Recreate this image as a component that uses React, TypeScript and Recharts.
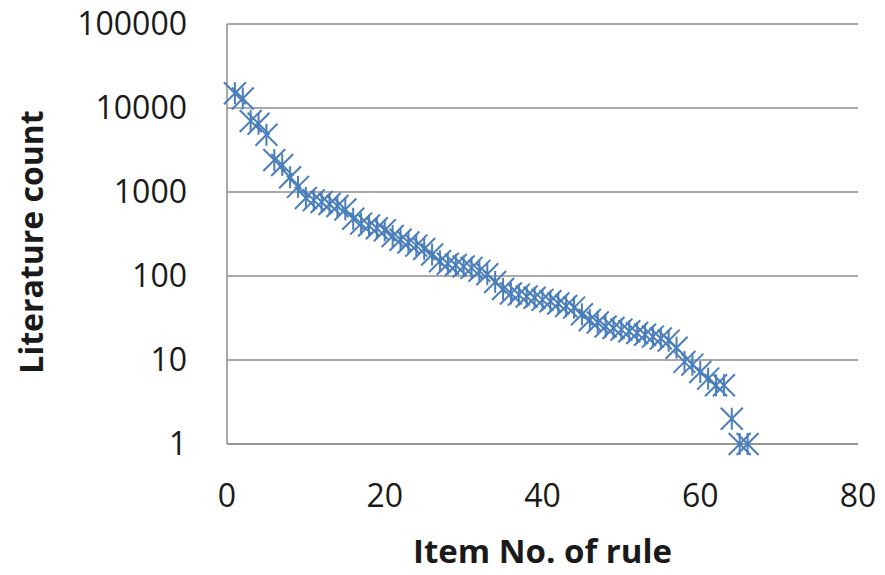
import React from "react";
import { ScatterChart, Scatter, XAxis, YAxis, CartesianGrid, Label } from "recharts";

const itemNumbers = [
  1, 2, 3, 4, 5, 6, 7, 8, 9, 10, 11, 12, 13, 14, 15, 16, 17, 18, 19, 20, 21, 22,
  23, 24, 25, 26, 27, 28, 29, 30, 31, 32, 33, 34, 35, 36, 37, 38, 39, 40, 41, 42,
  43, 44, 45, 46, 47, 48, 49, 50, 51, 52, 53, 54, 55, 56, 57, 58, 59, 60, 61, 62,
  63, 64, 65, 66,
];

const literatureCounts = [
  15000, 13000, 7000, 6500, 4800, 2400, 2100, 1500, 1150, 850, 800, 760, 720, 680,
  620, 480, 420, 400, 370, 350, 300, 270, 250, 230, 210, 180, 150, 140, 135, 130,
  125, 115, 105, 85, 70, 62, 60, 57, 55, 52, 50, 47, 44, 42, 35, 30, 28, 25, 24,
  23, 22, 21, 20, 19, 18, 17, 14, 9.5, 8.8, 7.2, 6, 5, 5, 2, 1, 1,
];

const xTicks = [0, 20, 40, 60, 80];
const yTicks = [1, 10, 100, 1000, 10000, 100000];

const points = itemNumbers.map((n, i) => ({ item: n, count: literatureCounts[i] }));

const BLUE = "#4a7ebb";
const GRID = "#8e8e8e";
const FONT = "'Open Sans', sans-serif";

// Excel-style "star" marker: an X with a vertical bar through it
const StarMarker = (props: any) => {
  const { cx, cy } = props;
  const r = 11;
  return (
    <g stroke={BLUE} strokeWidth={2} fill="none">
      <line x1={cx - r} y1={cy - r} x2={cx + r} y2={cy + r} />
      <line x1={cx - r} y1={cy + r} x2={cx + r} y2={cy - r} />
      <line x1={cx} y1={cy - r} x2={cx} y2={cy + r} />
    </g>
  );
};

const YTitle = (props: any) => {
  const vb = props.viewBox;
  const cx = 43;
  const cy = vb.y + vb.height / 2 + 8;
  return (
    <text
      x={cx}
      y={cy}
      transform={`rotate(-90 ${cx} ${cy})`}
      textAnchor="middle"
      fontFamily={FONT}
      fontWeight="bold"
      fontSize={32}
      fill="#1a1a1a"
    >
      Literature count
    </text>
  );
};

export default function App() {
  return (
    <div style={{ position: "absolute", left: 0, top: 0, fontFamily: FONT }}>
      <ScatterChart width={885} height={575} margin={{ top: 24, right: 27, left: 0, bottom: 0 }}>
        <CartesianGrid vertical={false} stroke={GRID} strokeWidth={1.5} />
        <XAxis
          type="number"
          dataKey="item"
          domain={[0, 80]}
          ticks={xTicks}
          height={131}
          tickLine={false}
          tickSize={0}
          tickMargin={40}
          axisLine={{ stroke: GRID, strokeWidth: 1.5 }}
          tick={{ fontSize: 32, fill: "#1a1a1a", fontFamily: FONT }}
        >
          <Label
            value="Item No. of rule"
            position="insideBottom"
            offset={12}
            style={{ fontSize: 33, fontWeight: "bold", fill: "#1a1a1a", fontFamily: FONT }}
          />
        </XAxis>
        <YAxis
          type="number"
          dataKey="count"
          scale="log"
          domain={[1, 100000]}
          ticks={yTicks}
          width={227}
          tickLine={false}
          tickSize={0}
          tickMargin={40}
          axisLine={{ stroke: GRID, strokeWidth: 1.5 }}
          tick={{ fontSize: 32, fill: "#1a1a1a", fontFamily: FONT }}
        >
          <Label content={YTitle} />
        </YAxis>
        <Scatter data={points} shape={StarMarker} isAnimationActive={false} />
      </ScatterChart>
    </div>
  );
}
